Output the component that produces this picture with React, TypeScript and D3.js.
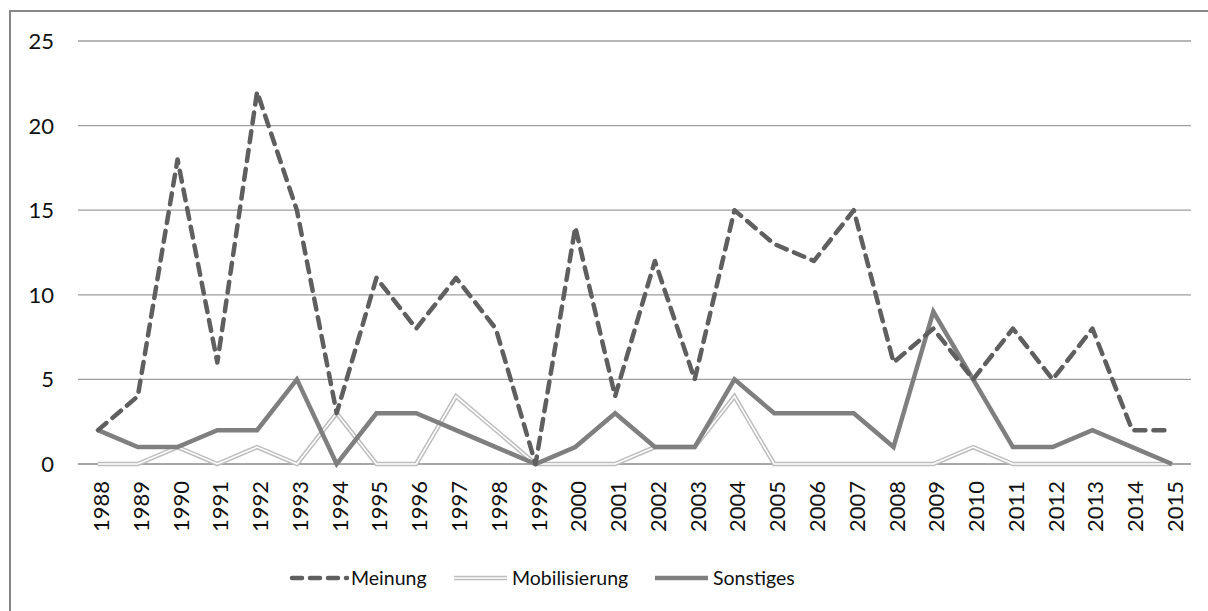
import React, { useEffect } from "react";
import * as d3 from "d3";

const years = [1988, 1989, 1990, 1991, 1992, 1993, 1994, 1995, 1996, 1997, 1998, 1999, 2000, 2001, 2002, 2003, 2004, 2005, 2006, 2007, 2008, 2009, 2010, 2011, 2012, 2013, 2014, 2015];
const meinung = [2, 4, 18, 6, 22, 15, 3, 11, 8, 11, 8, 0, 14, 4, 12, 5, 15, 13, 12, 15, 6, 8, 5, 8, 5, 8, 2, 2];
const mobilisierung = [0, 0, 1, 0, 1, 0, 3, 0, 0, 4, 2, 0, 0, 0, 1, 1, 4, 0, 0, 0, 0, 0, 1, 0, 0, 0, 0, 0];
const sonstiges = [2, 1, 1, 2, 2, 5, 0, 3, 3, 2, 1, 0, 1, 3, 1, 1, 5, 3, 3, 3, 1, 9, 5, 1, 1, 2, 1, 0];
const yTicks = [0, 5, 10, 15, 20, 25];
const seriesNames = ["Meinung", "Mobilisierung", "Sonstiges"];

const W = 1208;
const H = 611;
const FONT = "Lato, 'Open Sans', sans-serif";

export default function App() {
  useEffect(() => {
    document.body.style.margin = "0";
  }, []);

  const x = d3.scalePoint<number>().domain(years).range([98, 1172]);
  const y = d3.scaleLinear().domain([0, 25]).range([464, 41]);
  const gridX0 = 78;
  const gridX1 = 1191;

  const line = (vals: number[]) =>
    d3
      .line<number>()
      .x((_, i) => x(years[i]) as number)
      .y((v) => y(v))(vals) || "";

  const legendY = 578;

  return (
    <svg width={W} height={H} style={{ display: "block" }} fontFamily={FONT}>
      <rect x={0} y={0} width={W} height={H} fill="#fff" />
      <rect x={10} y={11} width={W + 20} height={H + 20} fill="none" stroke="#878787" strokeWidth={2} />
      {yTicks.map((t) => (
        <g key={t}>
          <line x1={gridX0} x2={gridX1} y1={y(t)} y2={y(t)} stroke={t === 0 ? "#8a8a8a" : "#9e9e9e"} strokeWidth={1.3} />
          <text x={54} y={y(t)} dy="0.36em" textAnchor="end" fontSize={22} fill="#111">
            {t}
          </text>
        </g>
      ))}
      {years.map((yr) => (
        <text
          key={yr}
          transform={`translate(${(x(yr) as number) + 11},481) rotate(-90)`}
          textAnchor="end"
          fontSize={22}
          fill="#111"
        >
          {yr}
        </text>
      ))}
      {/* Mobilisierung: double line */}
      <path d={line(mobilisierung)} fill="none" stroke="#bdbdbd" strokeWidth={4.5} strokeLinejoin="miter" />
      <path d={line(mobilisierung)} fill="none" stroke="#ffffff" strokeWidth={1.6} strokeLinejoin="miter" />
      {/* Sonstiges */}
      <path d={line(sonstiges)} fill="none" stroke="#7f7f7f" strokeWidth={4.5} strokeLinejoin="miter" />
      {/* Meinung */}
      <path
        d={line(meinung)}
        fill="none"
        stroke="#5f5f5f"
        strokeWidth={4.5}
        strokeDasharray="11 8"
        strokeLinecap="round"
        strokeLinejoin="round"
      />
      {/* Legend */}
      <line x1={292} x2={347} y1={legendY} y2={legendY} stroke="#5f5f5f" strokeWidth={4.5} strokeDasharray="10 8" strokeLinecap="round" />
      <text x={351} y={legendY} dy="0.36em" fontSize={19.5} fill="#111">{seriesNames[0]}</text>
      <line x1={454} x2={507} y1={legendY} y2={legendY} stroke="#bdbdbd" strokeWidth={4.5} />
      <line x1={454} x2={507} y1={legendY} y2={legendY} stroke="#fff" strokeWidth={1.6} />
      <text x={512} y={legendY} dy="0.36em" fontSize={19.5} fill="#111">{seriesNames[1]}</text>
      <line x1={655} x2={708} y1={legendY} y2={legendY} stroke="#7f7f7f" strokeWidth={4.5} />
      <text x={713} y={legendY} dy="0.36em" fontSize={19.5} fill="#111">{seriesNames[2]}</text>
    </svg>
  );
}
